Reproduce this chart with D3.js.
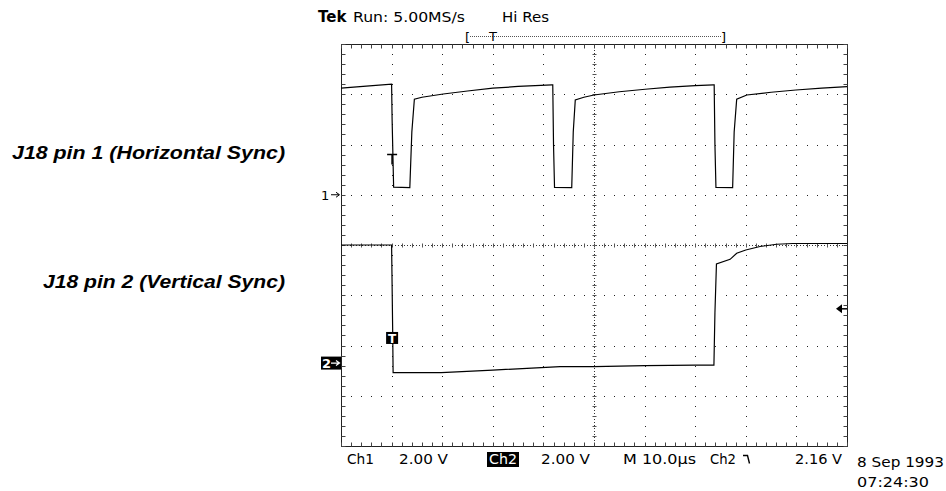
<!DOCTYPE html>
<html>
<head>
<meta charset="utf-8">
<script src="https://cdn.jsdelivr.net/npm/d3@7/dist/d3.min.js"></script>
<style>
body { margin: 0; background: #fff; }
svg { display: block; }
.scope { font-family: "DejaVu Sans", sans-serif; }
.label { font-family: "Liberation Sans", Arial, sans-serif; font-weight: bold; font-style: italic; font-size: 18px; }
</style>
</head>
<body>
<script>
// Ch1 = J18 pin 1 (horizontal sync), time in microseconds, level in volts
var ch1Time  = [0, 5, 10.0, 10.1, 10.4, 13.6, 14.0, 14.5, 16, 20.2, 25, 30, 35, 41.7,
                41.85, 42.0, 42.2, 45.6, 45.9, 46.3, 48, 50, 55, 60.1, 65, 70, 73.6,
                73.75, 73.9, 74.1, 77.4, 77.7, 78.2, 80.2, 85, 89.9, 95, 100];
var ch1Volts = [4.24, 4.32, 4.40, 3.0, 0.30, 0.28, 2.5, 3.80, 3.88, 4.01, 4.13, 4.24, 4.31, 4.37,
                4.37, 2.0, 0.29, 0.28, 2.5, 3.77, 3.88, 3.97, 4.10, 4.20, 4.28, 4.34, 4.37,
                4.37, 2.0, 0.29, 0.28, 2.5, 3.80, 3.97, 4.08, 4.17, 4.24, 4.30];

// Ch2 = J18 pin 2 (vertical sync)
var ch2Time  = [0, 10.0, 10.2, 10.3, 19.8, 30.0, 43.3, 50.0, 60.1, 70.0, 73.7, 73.9, 74.2,
                76.9, 78.2, 80, 82.8, 86.1, 89.3, 100];
var ch2Volts = [4.70, 4.70, 1.5, -0.38, -0.38, -0.28, -0.14, -0.14, -0.10, -0.08, -0.08, 2.0, 3.95,
                4.13, 4.37, 4.50, 4.64, 4.73, 4.76, 4.76];

// scope settings
var voltsPerDiv = 2.00;
var ch1Offset = 1.0;      // divisions above centre
var ch2Offset = -2.35;
var triggerTime = 10.1;
var triggerLevel = 2.16;  // volts on ch2
var ch1TMark = 1.6;
var ch2TMark = 1.0;

var headerLabels = ["Tek", "Run: 5.00MS/s", "Hi Res"];
var footerLabels = ["Ch1", "2.00 V", "Ch2", "2.00 V", "M 10.0\u00b5s", "Ch2", "2.16 V"];
var dateLabels = ["8 Sep 1993", "07:24:30"];
var traceLabels = ["J18 pin 1 (Horizontal Sync)", "J18 pin 2 (Vertical Sync)"];

var width = 946, height = 491;

var svg = d3.select("body").append("svg")
    .attr("width", width)
    .attr("height", height)
    .style("background", "#fff");

var x = d3.scaleLinear().domain([0, 100]).range([341, 847]);
var y = d3.scaleLinear().domain([-4, 4]).range([446, 44]);

var px = function(v) { return Math.round(v) + 0.5; };

var xMinor = d3.range(0, 51).map(function(i) { return i * 2; });
var yMinor = d3.range(0, 41).map(function(i) { return -4 + i * 0.2; });
var xMajor = d3.range(1, 10).map(function(i) { return i * 10; });
var yMajor = d3.range(-3, 4);

var grid = svg.append("g").attr("class", "grid");

// dotted major lines
xMajor.filter(function(t) { return t != 50; }).forEach(function(t) {
  grid.selectAll(null).data(yMinor).enter().append("rect")
    .attr("x", Math.round(x(t)))
    .attr("y", function(d) { return Math.round(y(d)); })
    .attr("width", 1).attr("height", 1)
    .attr("fill", "#222");
});
yMajor.filter(function(d) { return d != 0; }).forEach(function(v) {
  grid.selectAll(null).data(xMinor).enter().append("rect")
    .attr("x", function(d) { return Math.round(x(d)); })
    .attr("y", Math.round(y(v)))
    .attr("width", 1).attr("height", 1)
    .attr("fill", "#222");
});

// centre lines with ticks
grid.append("line")
  .attr("x1", px(x(50))).attr("x2", px(x(50)))
  .attr("y1", y(4)).attr("y2", y(-4))
  .attr("stroke", "#333").attr("stroke-dasharray", "1,2");
grid.append("line")
  .attr("x1", x(0)).attr("x2", x(100))
  .attr("y1", px(y(0))).attr("y2", px(y(0)))
  .attr("stroke", "#333").attr("stroke-dasharray", "1,2");
grid.selectAll(".vt").data(yMinor).enter().append("line")
  .attr("x1", px(x(50)) - 2).attr("x2", px(x(50)) + 2)
  .attr("y1", function(d) { return px(y(d)); })
  .attr("y2", function(d) { return px(y(d)); })
  .attr("stroke", "#555");
grid.selectAll(".ht").data(xMinor).enter().append("line")
  .attr("x1", function(d) { return px(x(d)); })
  .attr("x2", function(d) { return px(x(d)); })
  .attr("y1", px(y(0)) - 2).attr("y2", px(y(0)) + 2)
  .attr("stroke", "#555");

// border with inward ticks
grid.append("rect")
  .attr("x", px(x(0))).attr("y", px(y(4)))
  .attr("width", Math.round(x(100)) - Math.round(x(0)))
  .attr("height", Math.round(y(-4)) - Math.round(y(4)))
  .attr("fill", "none").attr("stroke", "#222");
[[y(4), 4], [y(-4), -4]].forEach(function(e) {
  grid.selectAll(null).data(xMinor).enter().append("line")
    .attr("x1", function(d) { return px(x(d)); })
    .attr("x2", function(d) { return px(x(d)); })
    .attr("y1", px(e[0])).attr("y2", px(e[0]) + e[1])
    .attr("stroke", "#444");
});
[[x(0), 4], [x(100), -4]].forEach(function(e) {
  grid.selectAll(null).data(yMinor).enter().append("line")
    .attr("y1", function(d) { return px(y(d)); })
    .attr("y2", function(d) { return px(y(d)); })
    .attr("x1", px(e[0])).attr("x2", px(e[0]) + e[1])
    .attr("stroke", "#444");
});

// traces
var trace = function(times, volts, offset) {
  var pts = times.map(function(t, i) { return [t, volts[i]]; });
  var line = d3.line()
    .x(function(d) { return x(d[0]); })
    .y(function(d) { return y(offset + d[1] / voltsPerDiv); });
  svg.append("path")
    .attr("d", line(pts))
    .attr("fill", "none")
    .attr("stroke", "#000")
    .attr("stroke-width", 1.2);
};
trace(ch1Time, ch1Volts, ch1Offset);
trace(ch2Time, ch2Volts, ch2Offset);

// trigger markers
var tx = x(triggerTime);
var t1y = y(ch1Offset + ch1TMark / voltsPerDiv);
svg.append("path")
  .attr("d", "M" + (tx - 5) + "," + t1y + "H" + (tx + 5) + "M" + tx + "," + t1y + "V" + (t1y + 10))
  .attr("stroke", "#000").attr("stroke-width", 1.6).attr("fill", "none");
var t2y = y(ch2Offset + ch2TMark / voltsPerDiv);
svg.append("rect")
  .attr("x", tx - 6).attr("y", t2y - 6).attr("width", 12).attr("height", 12)
  .attr("fill", "#000");
svg.append("text").attr("class", "scope")
  .attr("x", tx).attr("y", t2y + 5)
  .attr("text-anchor", "middle")
  .style("font-size", "12px").style("font-weight", "bold")
  .style("fill", "#fff").text("T");

// trigger level arrow
var ly = y(ch2Offset + triggerLevel / voltsPerDiv);
svg.append("path")
  .attr("d", "M" + (x(100) - 11) + "," + ly + "L" + (x(100) - 5) + "," + (ly - 4.5) + "V" + (ly + 4.5) + "Z")
  .attr("fill", "#000");
svg.append("line")
  .attr("x1", x(100) - 6).attr("x2", x(100))
  .attr("y1", ly).attr("y2", ly)
  .attr("stroke", "#000").attr("stroke-width", 1.5);

// channel ground markers
var g1 = y(ch1Offset);
svg.append("text").attr("class", "scope")
  .attr("x", 321).attr("y", g1 + 5)
  .style("font-size", "13px").style("fill", "#000").text("1");
svg.append("path")
  .attr("d", "M331," + g1 + "H339M336," + (g1 - 2.5) + "L339.5," + g1 + "L336," + (g1 + 2.5))
  .attr("stroke", "#000").attr("fill", "none");
var g2 = y(ch2Offset);
svg.append("rect").attr("x", 321).attr("y", g2 - 6.5).attr("width", 20).attr("height", 13).attr("fill", "#000");
svg.append("text").attr("class", "scope")
  .attr("x", 322).attr("y", g2 + 5)
  .style("font-size", "13px").style("font-weight", "bold")
  .style("fill", "#fff").text("2");
svg.append("path")
  .attr("d", "M331," + g2 + "H339M336," + (g2 - 2.5) + "L339.5," + g2 + "L336," + (g2 + 2.5))
  .attr("stroke", "#fff").attr("stroke-width", 1.2).attr("fill", "none");

// header
svg.append("text").attr("class", "scope")
  .attr("x", 318).attr("y", 22)
  .style("font-size", "15px").style("font-weight", "bold").style("fill", "#000")
  .text(headerLabels[0]);
svg.append("text").attr("class", "scope")
  .attr("x", 353).attr("y", 22)
  .style("font-size", "14px").style("fill", "#000")
  .attr("textLength", 112).attr("lengthAdjust", "spacingAndGlyphs")
  .text(headerLabels[1]);
svg.append("text").attr("class", "scope")
  .attr("x", 502).attr("y", 22)
  .style("font-size", "14px").style("fill", "#000")
  .attr("textLength", 47).attr("lengthAdjust", "spacingAndGlyphs")
  .text(headerLabels[2]);

// record bracket
svg.append("line")
  .attr("x1", 470).attr("x2", 722).attr("y1", 36.5).attr("y2", 36.5)
  .attr("stroke", "#555").attr("stroke-dasharray", "1,1");
svg.append("text").attr("class", "scope").attr("x", 465).attr("y", 42).style("font-size", "13px").style("fill", "#000").text("[");
svg.append("text").attr("class", "scope").attr("x", 721).attr("y", 42).style("font-size", "13px").style("fill", "#000").text("]");
svg.append("text").attr("class", "scope").attr("x", 489).attr("y", 41).style("font-size", "13px").style("fill", "#000").text("T");

// footer readout
var footerX = [347, 399, 489, 541, 623, 710, 795];
var footerW = [27, 49, 28, 49, 73, 26, 47];
footerLabels.forEach(function(s, i) {
  if (i == 2) {
    svg.append("rect").attr("x", 487).attr("y", 452).attr("width", 32).attr("height", 15).attr("fill", "#000");
  }
  svg.append("text").attr("class", "scope")
    .attr("x", footerX[i]).attr("y", 464)
    .style("font-size", "14px")
    .attr("textLength", footerW[i]).attr("lengthAdjust", "spacingAndGlyphs")
    .style("fill", i == 2 ? "#fff" : "#000")
    .text(s);
});
// falling slope symbol
svg.append("path")
  .attr("d", "M743,455.5H747.5L749.5,463.5")
  .attr("stroke", "#000").attr("stroke-width", 1.4).attr("fill", "none");

svg.append("text").attr("class", "scope")
  .attr("x", 857).attr("y", 467).style("font-size", "14px").style("fill", "#000")
  .attr("textLength", 87).attr("lengthAdjust", "spacingAndGlyphs")
  .text(dateLabels[0]);
svg.append("text").attr("class", "scope")
  .attr("x", 857).attr("y", 487).style("font-size", "14px").style("fill", "#000")
  .attr("textLength", 72).attr("lengthAdjust", "spacingAndGlyphs")
  .text(dateLabels[1]);

// trace captions
svg.append("text").attr("class", "label")
  .attr("x", 285).attr("y", 159).attr("text-anchor", "end").style("fill", "#000")
  .attr("textLength", 273).attr("lengthAdjust", "spacingAndGlyphs")
  .text(traceLabels[0]);
svg.append("text").attr("class", "label")
  .attr("x", 285).attr("y", 288).attr("text-anchor", "end").style("fill", "#000")
  .attr("textLength", 242).attr("lengthAdjust", "spacingAndGlyphs")
  .text(traceLabels[1]);
</script>
</body>
</html>
